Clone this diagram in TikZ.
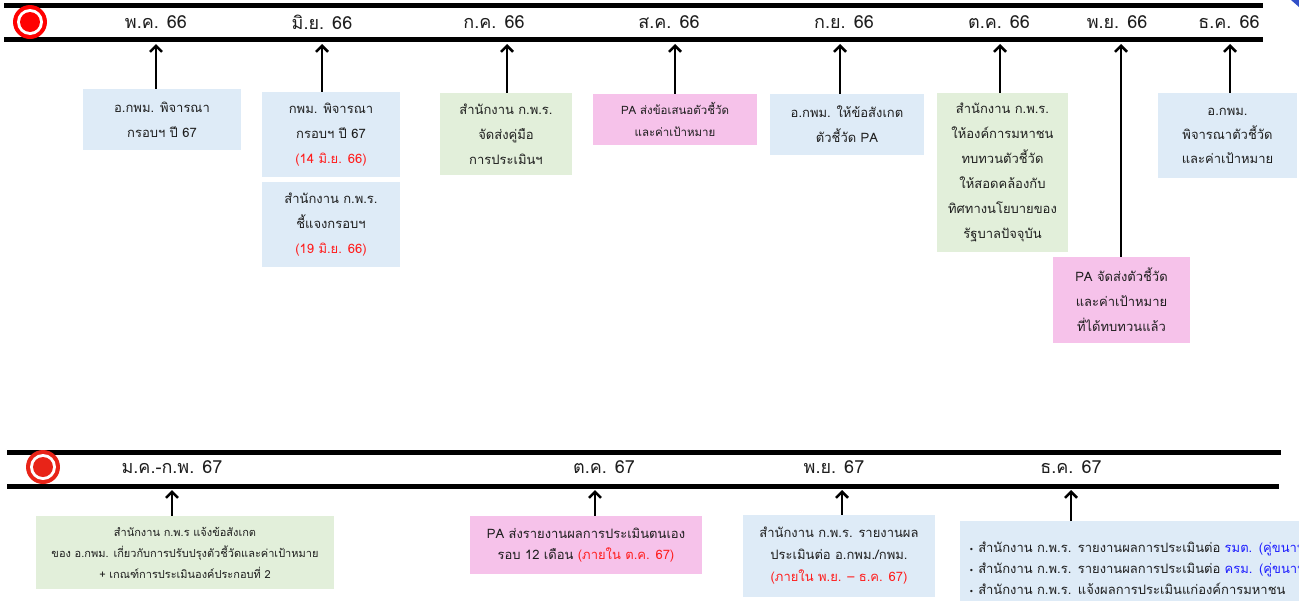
\documentclass[tikz,border=0pt]{standalone}
\usepackage{fontspec}
\setmainfont[Script=Thai]{Loma}
\newfontfamily\symfont{DejaVu Sans}
\usetikzlibrary{arrows.meta}

\definecolor{boxblue}{RGB}{222,235,247}
\definecolor{boxgreen}{RGB}{226,239,218}
\definecolor{boxpink}{RGB}{246,194,234}
\definecolor{datered}{RGB}{255,30,30}
\definecolor{linkblue}{RGB}{30,30,255}
\definecolor{inktext}{RGB}{30,30,30}
\definecolor{markred}{RGB}{255,0,0}
\definecolor{markred2}{RGB}{232,36,24}
\definecolor{cornerblue}{RGB}{50,80,200}

\tikzset{
  bar/.style={line width=5pt},
  month/.style={font=\fontsize{18}{20}\selectfont, text=inktext},
  card/.style={inner sep=2pt, align=center, text=inktext, font=\fontsize{13}{25}\selectfont},
  bluecard/.style={card, fill=boxblue},
  greencard/.style={card, fill=boxgreen},
  pinkcard/.style={card, fill=boxpink},
  up/.style={-{Straight Barb[length=6pt,width=12pt]}, line width=2.5pt},
}
\newcommand{\dotmark}{{\symfont\fontsize{8}{8}\selectfont •}}

\begin{document}
\begin{tikzpicture}[x=1pt,y=-1pt]

\useasboundingbox (0,0) rectangle (1299,600);
\clip (0,0) rectangle (1299,600);

% Timeline bars
\draw[bar] (4,5) -- (1263,5);
\draw[bar] (4,39) -- (1263,39);
\draw[bar] (7,452) -- (1281,452);
\draw[bar] (7,486) -- (1279,486);

% Start marks
\fill[markred] (30,22) circle (17pt);
\fill[white] (30,22) circle (13pt);
\fill[markred] (30,22) circle (10pt);
\fill[markred2] (43,467) circle (17pt);
\fill[white] (43,467) circle (13pt);
\fill[markred2] (43,467) circle (10pt);

% Corner mark
\fill[cornerblue] (1291,0) -- (1299,0) -- (1299,7) -- cycle;

% Months, first row
\node[month] (m1) at (156,22) {พ.ค. 66};
\node[month] (m2) at (322,22) {มิ.ย. 66};
\node[month] (m3) at (494,22) {ก.ค. 66};
\node[month] (m4) at (669,22) {ส.ค. 66};
\node[month] (m5) at (844,22) {ก.ย. 66};
\node[month] (m6) at (999,22) {ต.ค. 66};
\node[month] (m7) at (1117,22) {พ.ย. 66};
\node[month] (m8) at (1229,22) {ธ.ค. 66};

% Months, second row
\node[month] (n1) at (172,467) {ม.ค.-ก.พ. 67};
\node[month] (n2) at (604,467) {ต.ค. 67};
\node[month] (n3) at (834,467) {พ.ย. 67};
\node[month] (n4) at (1071,467) {ธ.ค. 67};

% Arrow heads on the bars
\coordinate (a1) at (156,44);
\coordinate (a2) at (322,44);
\coordinate (a3) at (507,44);
\coordinate (a4) at (675,44);
\coordinate (a5) at (840,44);
\coordinate (a6) at (1000,44);
\coordinate (a7) at (1121,44);
\coordinate (a8) at (1230,44);
\coordinate (b1) at (172,490);
\coordinate (b2) at (595,490);
\coordinate (b3) at (842,490);
\coordinate (b4) at (1071,490);

% Cards, first row
\node[bluecard, minimum width=158, minimum height=61] (k1) at (162,119.5)
  {อ.กพม. พิจารณา\\กรอบฯ ปี 67};
\node[bluecard, minimum width=138, minimum height=85] (k2) at (331,134.5)
  {กพม. พิจารณา\\กรอบฯ ปี 67\\\textcolor{datered}{(14 มิ.ย. 66)}};
\node[bluecard, minimum width=138, minimum height=85] (k3) at (331,224.5)
  {สำนักงาน ก.พ.ร.\\ชี้แจงกรอบฯ\\\textcolor{datered}{(19 มิ.ย. 66)}};
\node[greencard, minimum width=132, minimum height=82] (k4) at (506,134)
  {สำนักงาน ก.พ.ร.\\จัดส่งคู่มือ\\การประเมินฯ};
\node[pinkcard, minimum width=164, minimum height=51, font=\fontsize{11.5}{22}\selectfont] (k5) at (675,119.5)
  {PA ส่งข้อเสนอตัวชี้วัด\\และค่าเป้าหมาย};
\node[bluecard, minimum width=154, minimum height=61] (k6) at (847,124.5)
  {อ.กพม. ให้ข้อสังเกต\\ตัวชี้วัด PA};
\node[greencard, minimum width=131, minimum height=159] (k7) at (1002.5,172.5)
  {สำนักงาน ก.พ.ร.\\ให้องค์การมหาชน\\ทบทวนตัวชี้วัด\\ให้สอดคล้องกับ\\ทิศทางนโยบายของ\\รัฐบาลปัจจุบัน};
\node[pinkcard, minimum width=137, minimum height=86] (k8) at (1121.5,300)
  {PA จัดส่งตัวชี้วัด\\และค่าเป้าหมาย\\ที่ได้ทบทวนแล้ว};
\node[bluecard, minimum width=139, minimum height=85, font=\fontsize{13}{24}\selectfont] (k9) at (1227.5,135.5)
  {อ.กพม.\\พิจารณาตัวชี้วัด\\และค่าเป้าหมาย};

% Cards, second row
\node[greencard, minimum width=298, minimum height=73, font=\fontsize{11}{21}\selectfont] (c1) at (185,552.5)
  {สำนักงาน ก.พ.ร แจ้งข้อสังเกต\\ของ อ.กพม. เกี่ยวกับการปรับปรุงตัวชี้วัดและค่าเป้าหมาย\\+ เกณฑ์การประเมินองค์ประกอบที่ 2};
\node[pinkcard, minimum width=232, minimum height=58, font=\fontsize{13}{21}\selectfont] (c2) at (586,545)
  {PA ส่งรายงานผลการประเมินตนเอง\\รอบ 12 เดือน \textcolor{datered}{(ภายใน ต.ค. 67)}};
\node[bluecard, minimum width=192, minimum height=82, font=\fontsize{13}{22}\selectfont] (c3) at (839,556)
  {สำนักงาน ก.พ.ร. รายงานผล\\ประเมินต่อ อ.กพม./กพม.\\\textcolor{datered}{(ภายใน พ.ย. – ธ.ค. 67)}};
\node[bluecard, anchor=north west, text width=370, minimum height=95, align=left,
  inner xsep=9pt, font=\fontsize{13}{21}\selectfont] (c4) at (960,521)
  {\dotmark{} สำนักงาน ก.พ.ร. รายงานผลการประเมินต่อ \textcolor{linkblue}{รมต. (คู่ขนาน)}\\
   \dotmark{} สำนักงาน ก.พ.ร. รายงานผลการประเมินต่อ \textcolor{linkblue}{ครม. (คู่ขนาน)}\\
   \dotmark{} สำนักงาน ก.พ.ร. แจ้งผลการประเมินแก่องค์การมหาชน};

% Arrows from cards to the bars
\draw[up] (k1.north -| a1) -- (a1);
\draw[up] (k2.north -| a2) -- (a2);
\draw[up] (k4.north -| a3) -- (a3);
\draw[up] (k5.north -| a4) -- (a4);
\draw[up] (k6.north -| a5) -- (a5);
\draw[up] (k7.north -| a6) -- (a6);
\draw[up] (k8.north -| a7) -- (a7);
\draw[up] (k9.north -| a8) -- (a8);
\draw[up] (c1.north -| b1) -- (b1);
\draw[up] (c2.north -| b2) -- (b2);
\draw[up] (c3.north -| b3) -- (b3);
\draw[up] (c4.north -| b4) -- (b4);

\end{tikzpicture}
\end{document}
